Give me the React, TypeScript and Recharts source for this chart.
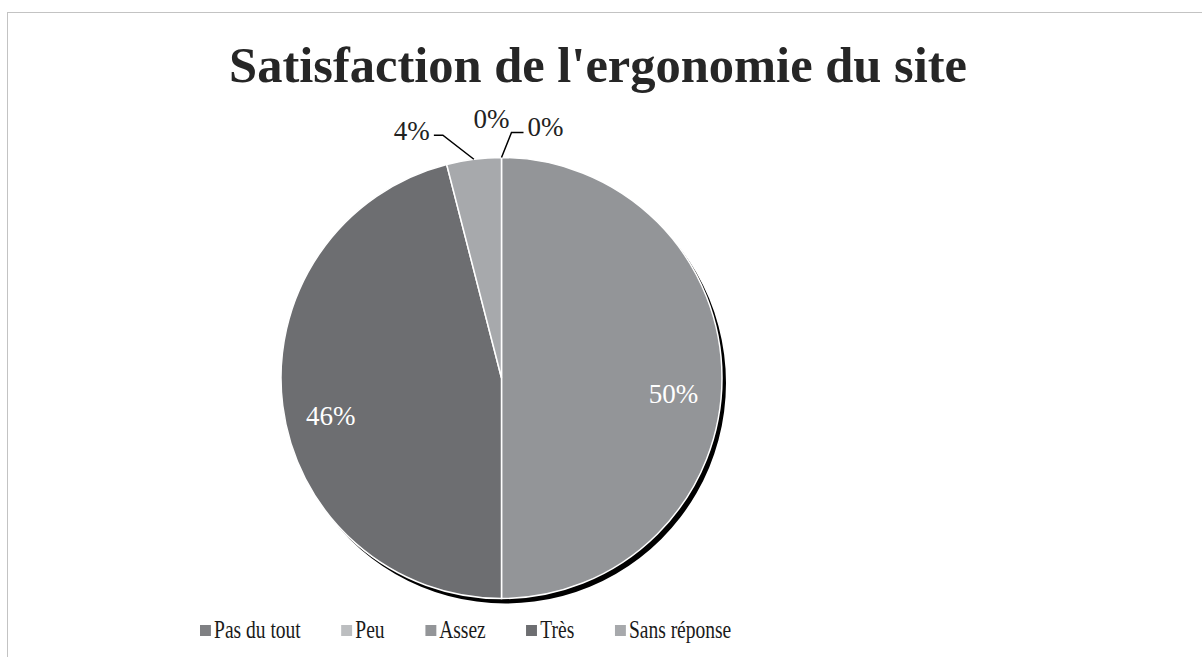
import { PieChart, Pie, Cell, Legend } from "recharts";

const title = "Satisfaction de l'ergonomie du site";
const categories = ["Pas du tout", "Peu", "Assez", "Très", "Sans réponse"];
const percentages = [0, 0, 50, 46, 4];
const sliceColors = ["#7f8083", "#bcbec0", "#939598", "#6d6e71", "#a7a9ac"];

const data = categories.map((name, i) => ({ name, value: percentages[i] }));

const FONT = "'Liberation Serif', 'Times New Roman', serif";
const RAD = Math.PI / 180;

// leader line bend (relative to the arc point) for the small slices
const outsideLayout: Record<number, { dx: number; dy: number; tail: number; textDy: number; line: boolean }> = {
  0: { dx: -10, dy: -33, tail: 0, textDy: -6, line: false },
  1: { dx: 10, dy: -25, tail: 12, textDy: -6, line: true },
  4: { dx: -31, dy: -24, tail: -9, textDy: -4, line: true },
};

function renderLabel(props: any) {
  const { cx, cy, midAngle, outerRadius, index, value } = props;
  const cos = Math.cos(-midAngle * RAD);
  const sin = Math.sin(-midAngle * RAD);
  const text = `${Math.round(value)}%`;

  if (value >= 10) {
    const r = outerRadius * 0.78;
    return (
      <text
        key={`l-${index}`}
        x={cx + r * cos}
        y={cy + r * sin + 16}
        fill="#ffffff"
        fontFamily={FONT}
        fontSize={27}
        textAnchor="middle"
        dominantBaseline="central"
      >
        {text}
      </text>
    );
  }

  const lay = outsideLayout[index] ?? { dx: 0, dy: -25, tail: 10, textDy: -5, line: true };
  const ax = cx + outerRadius * cos;
  const ay = cy + outerRadius * sin;
  const ex = ax + lay.dx;
  const ey = ay + lay.dy;
  const tx = ex + lay.tail;
  const anchor = lay.tail < 0 ? "end" : lay.tail > 0 ? "start" : "middle";
  const textX = lay.tail < 0 ? tx - 4 : lay.tail > 0 ? tx + 4 : tx;
  return (
    <g key={`l-${index}`}>
      {lay.line && (
        <polyline
          points={`${ax},${ay} ${ex},${ey} ${tx},${ey}`}
          fill="none"
          stroke="#000"
          strokeWidth={1.5}
        />
      )}
      <text
        x={textX}
        y={ey + lay.textDy}
        fill="#222"
        fontFamily={FONT}
        fontSize={27}
        textAnchor={anchor}
        dominantBaseline="central"
      >
        {text}
      </text>
    </g>
  );
}

function LegendContent() {
  return (
    <div
      style={{
        display: "flex",
        gap: 52,
        fontFamily: FONT,
        fontSize: 25,
        color: "#1a1a1a",
        alignItems: "center",
        whiteSpace: "nowrap",
        transform: "scaleX(0.78)",
        transformOrigin: "left center",
      }}
    >
      {categories.map((c, i) => (
        <div key={c} style={{ display: "flex", alignItems: "center", gap: 4 }}>
          <span
            style={{ width: 14, height: 11, background: sliceColors[i], display: "inline-block" }}
          />
          <span>{c}</span>
        </div>
      ))}
    </div>
  );
}

export default function App() {
  return (
    <div style={{ position: "relative", width: 1202, height: 657, background: "#fff", overflow: "hidden" }}>
      <style>{"body{margin:0}"}</style>
      <div
        style={{
          position: "absolute",
          left: 7,
          top: 12,
          width: 1300,
          height: 800,
          borderLeft: "1.5px solid #c3c3c3",
          borderTop: "1.5px solid #c3c3c3",
        }}
      />
      <div
        style={{
          position: "absolute",
          top: 36,
          left: 0,
          width: 1196,
          textAlign: "center",
          fontFamily: FONT,
          fontWeight: "bold",
          fontSize: 50.5,
          color: "#262626",
        }}
      >
        {title}
      </div>
      <div style={{ position: "absolute", top: 0, left: 0 }}>
        <PieChart width={1202} height={657} margin={{ top: 0, right: 0, bottom: 0, left: 0 }}>
          {/* black drop shadow under the pie */}
          <Pie
            data={[{ name: "shadow", value: 1 }]}
            dataKey="value"
            cx={505.5}
            cy={383}
            outerRadius={220.5}
            startAngle={90}
            endAngle={-270}
            fill="#000"
            stroke="none"
            isAnimationActive={false}
            legendType="none"
          />
          <Pie
            data={data}
            dataKey="value"
            nameKey="name"
            cx={501.5}
            cy={378}
            outerRadius={220.5}
            startAngle={90}
            endAngle={-270}
            stroke="#ffffff"
            strokeWidth={1.5}
            label={renderLabel}
            labelLine={false}
            isAnimationActive={false}
          >
            {data.map((d, i) => (
              <Cell key={d.name} fill={sliceColors[i]} />
            ))}
          </Pie>
          <Legend
            content={<LegendContent />}
            wrapperStyle={{ position: "absolute", top: 616, left: 200, width: "auto" }}
          />
        </PieChart>
      </div>
    </div>
  );
}
